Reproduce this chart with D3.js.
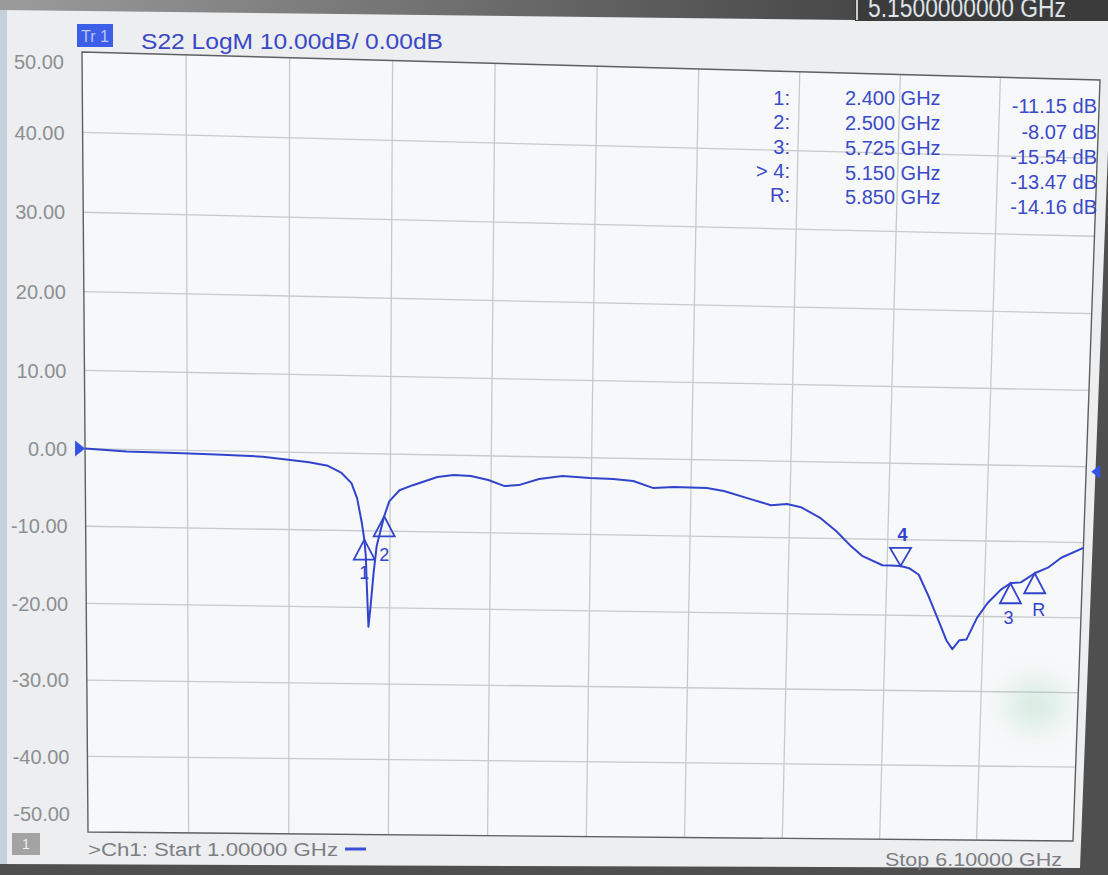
<!DOCTYPE html>
<html><head><meta charset="utf-8">
<script src="https://cdn.jsdelivr.net/npm/d3@7"></script>
<style>html,body{margin:0;padding:0;background:#4a4a4a;}svg{display:block}</style>
</head><body>
<svg id="c" width="1108" height="875"></svg>
<script>
// ---------- data ----------
const freqGHz = [1.000,1.208,1.450,1.654,1.887,2.016,2.120,2.215,2.284,2.334,2.363,2.388,2.400,2.408,2.413,2.423,2.433,2.448,2.463,2.500,2.525,2.577,2.644,2.768,2.851,2.938,3.026,3.109,3.181,3.284,3.403,3.542,3.661,3.764,3.868,3.971,4.141,4.229,4.384,4.472,4.555,4.627,4.730,4.813,4.885,4.952,5.056,5.100,5.150,5.195,5.246,5.298,5.350,5.401,5.432,5.468,5.504,5.556,5.609,5.676,5.725,5.779,5.850,5.918,5.986,6.100];
const s22dB   = [0.00,-0.29,-0.35,-0.47,-0.63,-0.96,-1.25,-1.66,-2.55,-3.84,-5.80,-9.09,-11.15,-13.3,-16.7,-22.5,-19.9,-15.4,-11.9,-8.07,-6.13,-4.66,-3.97,-2.85,-2.55,-2.64,-3.13,-3.88,-3.72,-2.88,-2.43,-2.63,-2.70,-2.93,-3.80,-3.61,-3.67,-4.02,-5.15,-5.77,-5.59,-5.96,-7.36,-9.04,-10.84,-12.27,-13.42,-13.45,-13.47,-13.75,-14.6,-17.3,-20.3,-23.3,-24.4,-23.2,-23.1,-20.2,-18.2,-16.4,-15.54,-15.4,-14.16,-13.4,-12.06,-10.7];

const yTicks = [50,40,30,20,10,0,-10,-20,-30,-40,-50];
const yTickLabels = ["50.00","40.00","30.00","20.00","10.00","0.00","-10.00","-20.00","-30.00","-40.00","-50.00"];
const xGridGHz = [1.00,1.51,2.02,2.53,3.04,3.55,4.06,4.57,5.08,5.59,6.10];

const markerIds = ["1","2","3","4","R"];
const markerFreq = [2.400,2.500,5.725,5.150,5.850];
const markerDB = [-11.15,-8.07,-15.54,-13.47,-14.16];
const markerActive = [false,false,false,true,false];
const tableLabels = ["1:","2:","3:","> 4:","R:"];
const tableFreq = ["2.400 GHz","2.500 GHz","5.725 GHz","5.150 GHz","5.850 GHz"];
const tableValue = ["-11.15 dB","-8.07 dB","-15.54 dB","-13.47 dB","-14.16 dB"];

const titleText = "S22 LogM 10.00dB/ 0.00dB";
const startText = ">Ch1:  Start  1.00000 GHz";
const stopText = "Stop 6.10000 GHz";
const readoutText = "5.1500000000 GHz";

// ---------- photo perspective: unit square -> screen quadrilateral ----------
const quad = {tl:[82,52], tr:[1100,80], br:[1073,841], bl:[88,832]};
function makeHomography(q){
  const [x0,y0]=q.tl,[x1,y1]=q.tr,[x2,y2]=q.br,[x3,y3]=q.bl;
  const dx1=x1-x2, dx2=x3-x2, dx3=x0-x1+x2-x3;
  const dy1=y1-y2, dy2=y3-y2, dy3=y0-y1+y2-y3;
  const det=dx1*dy2-dx2*dy1;
  const g=(dx3*dy2-dx2*dy3)/det, h=(dx1*dy3-dx3*dy1)/det;
  const a=x1-x0+g*x1, b=x3-x0+h*x3, c=x0;
  const d=y1-y0+g*y1, e=y3-y0+h*y3, f=y0;
  return (u,v)=>{const w=g*u+h*v+1; return [(a*u+b*v+c)/w,(d*u+e*v+f)/w];};
}
const P = makeHomography(quad);

// ---------- drawing ----------
const FONT = "'Liberation Sans', Arial, sans-serif";
const BLUE = "#3344cc";
const svg = d3.select("#c");
const defs = svg.append("defs");
const tg = defs.append("linearGradient").attr("id","topg").attr("x1","0").attr("x2","1").attr("y1","0").attr("y2","0");
tg.append("stop").attr("offset","0").attr("stop-color","#9b9b9b");
tg.append("stop").attr("offset","1").attr("stop-color","#2f2f2f");
defs.append("filter").attr("id","blur").attr("x","-1").attr("y","-1").attr("width","3").attr("height","3")
  .append("feGaussianBlur").attr("stdDeviation",14);

svg.append("rect").attr("width",1108).attr("height",875).attr("fill","#4f4f4f");
svg.append("rect").attr("width",1108).attr("height",24).attr("fill","url(#topg)");
svg.append("polygon").attr("points","0,10 855,20 1108,20 1108,150 1080,868 0,864").attr("fill","#eceef0");
svg.append("rect").attr("x",0).attr("y",10).attr("width",7).attr("height",854).attr("fill","#c4d0dc");
// top-right readout box (cut by the top of the photo)
svg.append("rect").attr("x",855).attr("y",0).attr("width",253).attr("height",21).attr("fill","#3b3b3b");
svg.append("line").attr("x1",857).attr("x2",857).attr("y1",0).attr("y2",20).attr("stroke","#c9ccd2").attr("stroke-width",2);
svg.append("text").attr("x",868).attr("y",17).attr("font-family",FONT)
  .attr("font-size",28).attr("fill","#dfe3ea").attr("textLength",198).attr("lengthAdjust","spacingAndGlyphs").text(readoutText);

// header
svg.append("rect").attr("x",77).attr("y",24).attr("width",36).attr("height",23).attr("fill","#3d5ee6");
svg.append("text").attr("x",81).attr("y",42).attr("font-family",FONT).attr("font-size",16)
  .attr("fill","#b9c6ff").attr("textLength",28).attr("lengthAdjust","spacingAndGlyphs").text("Tr 1");
svg.append("text").attr("x",141).attr("y",49).attr("font-family",FONT).attr("font-size",22)
  .attr("fill","#3a48c6").attr("textLength",302).attr("lengthAdjust","spacingAndGlyphs").text(titleText);

// scales (screen-normalised), then projected through the photo perspective
const x = d3.scaleLinear().domain([1.0, 6.1]).range([0, 1]);
const y = d3.scaleLinear().domain([50, -50]).range([0, 1]);
const pt = (f, db) => P(x(f), y(db));

const corners = [pt(1,50), pt(6.1,50), pt(6.1,-50), pt(1,-50)];
const g = svg.append("g");
g.append("polygon").attr("points", corners.map(p=>p.join(",")).join(" ")).attr("fill","#f7f8f9");

g.append("g").selectAll("line").data(yTicks.filter(v=>v!==50&&v!==-50)).join("line")
  .each(function(d){ const a=pt(1,d), b=pt(6.1,d);
    d3.select(this).attr("x1",a[0]).attr("y1",a[1]).attr("x2",b[0]).attr("y2",b[1]); })
  .attr("stroke","#c8c9cb").attr("stroke-width",1.3);
g.append("g").selectAll("line").data(xGridGHz.slice(1,-1)).join("line")
  .each(function(d){ const a=pt(d,50), b=pt(d,-50);
    d3.select(this).attr("x1",a[0]).attr("y1",a[1]).attr("x2",b[0]).attr("y2",b[1]); })
  .attr("stroke","#c8c9cb").attr("stroke-width",1.3);
g.append("polygon").attr("points", corners.map(p=>p.join(",")).join(" "))
  .attr("fill","none").attr("stroke","#5d5f63").attr("stroke-width",1.4);

// y tick labels
g.append("g").selectAll("text").data(yTicks).join("text")
  .attr("x",d=>pt(1,d)[0]-18).attr("y",d=>pt(1,d)[1]+(d===50?10:(d===-50?-18:0)))
  .attr("dy","0.36em").attr("text-anchor","end")
  .attr("font-family",FONT).attr("font-size",20).attr("fill","#8d8f92")
  .text((d,i)=>yTickLabels[i]);

// reference arrows at 0 dB
const l0 = pt(1,0), r0 = pt(6.1,0);
g.append("path").attr("d",`M${l0[0]-10},${l0[1]-8}L${l0[0]},${l0[1]}L${l0[0]-10},${l0[1]+8}Z`).attr("fill","#3552e6");
g.append("path").attr("d",`M${r0[0]+14},${r0[1]-2}L${r0[0]+5},${r0[1]+5}L${r0[0]+14},${r0[1]+12}Z`).attr("fill","#3552e6");

// trace
const pts = freqGHz.map((f,i)=>pt(f, s22dB[i]));
g.append("path").datum(pts).attr("fill","none").attr("stroke",BLUE).attr("stroke-width",2)
  .attr("stroke-linejoin","round").attr("d", d3.line());

// markers
const labelOffset = {"1":[0,33],"2":[0,38],"3":[-2,34],"R":[4,36],"4":[2,-31]};
markerIds.forEach((id,i)=>{
  const [mx,my] = pt(markerFreq[i], markerDB[i]);
  if (markerActive[i]) {
    g.append("path").attr("d",`M${mx},${my}L${mx-10.5},${my-18}L${mx+10.5},${my-18}Z`)
      .attr("fill","none").attr("stroke",BLUE).attr("stroke-width",1.8);
  } else {
    g.append("path").attr("d",`M${mx},${my}L${mx-10.5},${my+20}L${mx+10.5},${my+20}Z`)
      .attr("fill","none").attr("stroke",BLUE).attr("stroke-width",1.8);
  }
  const o = labelOffset[id];
  g.append("text").attr("x",mx+o[0]).attr("y",my+o[1]).attr("dy","0.36em").attr("text-anchor","middle")
    .attr("font-family",FONT).attr("font-size",18).attr("font-weight",markerActive[i]?"bold":"normal")
    .attr("fill",BLUE).text(id);
});

// marker table
const tbl = svg.append("g").attr("font-family",FONT).attr("font-size",20).attr("fill","#3a4ac8");
tableLabels.forEach((t,i)=>{
  tbl.append("text").attr("x",790).attr("y",98+24.2*i).attr("dy","0.36em").attr("text-anchor","end").text(t);
  tbl.append("text").attr("x",845).attr("y",98+24.8*i).attr("dy","0.36em").text(tableFreq[i]);
  tbl.append("text").attr("x",1097).attr("y",106+25.3*i).attr("dy","0.36em").attr("text-anchor","end").text(tableValue[i]);
});

// bottom bar
svg.append("rect").attr("x",12).attr("y",833).attr("width",28).attr("height",22).attr("fill","#a3a3a3");
svg.append("text").attr("x",26).attr("y",844).attr("dy","0.36em").attr("text-anchor","middle")
  .attr("font-family",FONT).attr("font-size",14).attr("fill","#eeeeee").text("1");
svg.append("text").attr("x",88).attr("y",850).attr("dy","0.36em").attr("font-family",FONT).attr("font-size",18)
  .attr("fill","#7c7e82").attr("textLength",250).attr("lengthAdjust","spacingAndGlyphs").text(startText);
svg.append("line").attr("x1",345).attr("x2",366).attr("y1",849).attr("y2",849).attr("stroke","#3b4fd8").attr("stroke-width",3);
svg.append("text").attr("x",885).attr("y",860).attr("dy","0.36em").attr("font-family",FONT).attr("font-size",18)
  .attr("fill","#7c7e82").attr("textLength",177).attr("lengthAdjust","spacingAndGlyphs").text(stopText);

// faint green reflection in the photo
svg.append("ellipse").attr("cx",1035).attr("cy",705).attr("rx",30).attr("ry",24)
  .attr("fill","#8fd0b0").attr("opacity",0.3).attr("filter","url(#blur)");
</script>
</body></html>
